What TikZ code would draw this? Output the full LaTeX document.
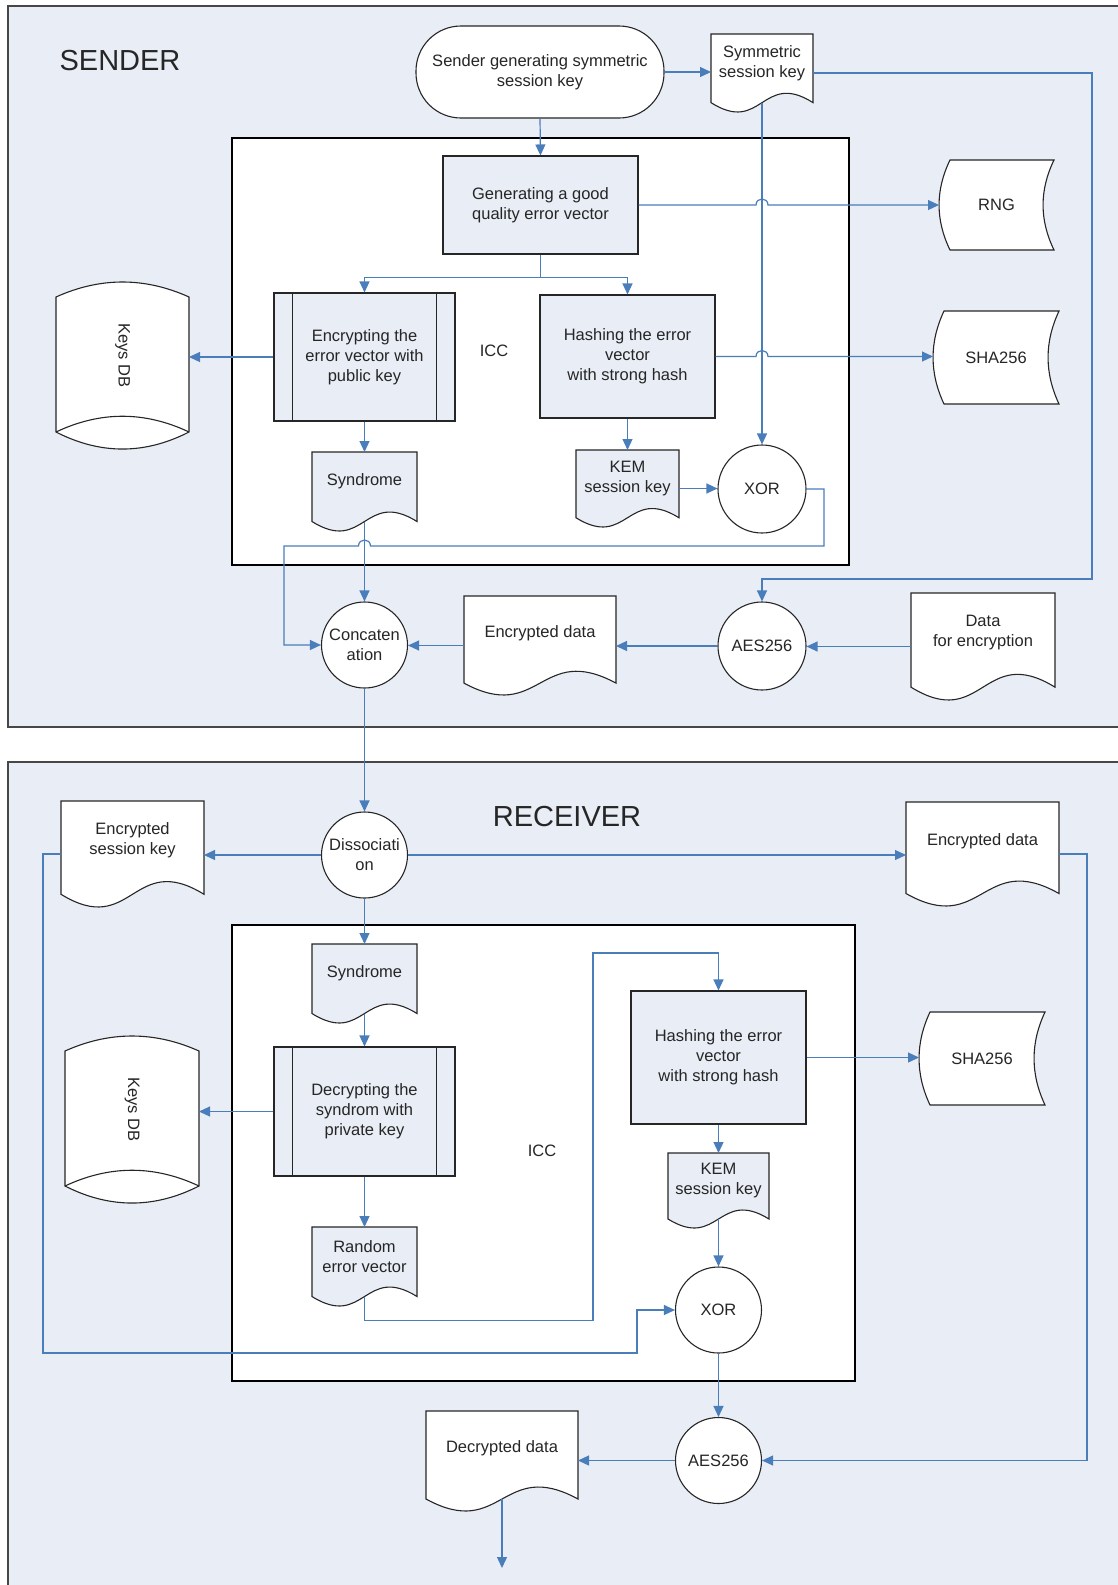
\documentclass[tikz,border=0pt]{standalone}
\usepackage{fontspec}
\setmainfont{Liberation Sans}
\usetikzlibrary{arrows.meta,calc}

\definecolor{panel}{HTML}{E9EDF6}
\definecolor{wire}{HTML}{4A7EBB}
\definecolor{ink}{HTML}{262626}

\tikzset{
  conn/.style={draw=wire, line width=1.2pt, -{Triangle[length=11pt,width=10pt]}},
  wireline/.style={draw=wire, line width=1.2pt},
  shapeline/.style={draw=ink, line width=1.1pt},
  panelbox/.style={draw=ink!85, line width=1.5pt, fill=panel},
  iccbox/.style={draw=black, line width=1.3pt, fill=white},
  txt/.style={font=\fontsize{16.5}{20}\selectfont, text=ink, align=center, inner sep=0pt},
  title/.style={font=\fontsize{29}{34}\selectfont, text=ink, inner sep=0pt},
  ghost/.style={draw=none, fill=none, inner sep=0pt, outer sep=0pt},
  proc/.style={shapeline, fill=panel, txt, rectangle},
  term/.style={shapeline, fill=white, txt, rectangle, rounded corners=45pt,
               minimum width=248pt, minimum height=92pt},
  op/.style={shapeline, fill=white, txt, circle, minimum size=#1},
  op/.default=86pt,
}

% document symbol with a wavy lower edge; connectors use the full box,
% (name-b) is the middle of the wave
\newcommand\docnode[7]{% name, fill, x, y, width, height, text
  \pgfmathsetmacro\wv{0.12*#6}%
  \pgfmathsetmacro\wc{3.46*\wv}%
  \node[ghost, minimum width=#5pt, minimum height=#6pt] (#1) at (#3,#4) {};
  \coordinate (#1-b) at ($(#1.south)+(0,-\wv)$);
  \filldraw[shapeline, fill=#2] (#1.north west) -- (#1.north east)
     -- ($(#1.south east)+(0,-\wv)$)
     .. controls ($(#1-b)+(0,-\wc)$) and ($(#1-b)+(0,\wc)$) ..
     ($(#1.south west)+(0,-\wv)$) -- cycle;
  \node[txt] (#1-t) at ($(#1.center)+(0,-0.127*#6)$) {#7};
}

% stored data symbol: convex left side, concave right side
\newcommand\storenode[6]{% name, x, y, width, height, text
  \node[ghost, minimum width=#4pt, minimum height=#5pt] (#1) at (#2,#3) {};
  \filldraw[shapeline, fill=white] ($(#1.north west)+(11,0)$) -- (#1.north east)
    .. controls ($(#1.north east)+(-14.6,#5/3)$) and ($(#1.south east)+(-14.6,-#5/3)$) .. (#1.south east)
    -- ($(#1.south west)+(11,0)$)
    .. controls ($(#1.south west)+(-3.6,-#5/3)$) and ($(#1.north west)+(-3.6,#5/3)$) ..
    ($(#1.north west)+(11,0)$) -- cycle;
  \node[txt] (#1-t) at (#1.center) {#6};
}

% database drum standing upright, label turned
\newcommand\dbnode[5]{% name, x, y, width, height
  \node[ghost, minimum width=#4pt, minimum height=#5pt] (#1) at (#2,#3) {};
  \filldraw[shapeline, fill=white] ($(#1.north west)+(0,15)$)
    .. controls ($(#1.north west)+(#4/3,-5)$) and ($(#1.north east)+(-#4/3,-5)$) .. ($(#1.north east)+(0,15)$)
    -- ($(#1.south east)+(0,-17)$)
    .. controls ($(#1.south east)+(-#4/3,5.7)$) and ($(#1.south west)+(#4/3,5.7)$) .. ($(#1.south west)+(0,-17)$)
    -- cycle;
  \draw[shapeline] ($(#1.south west)+(0,-17)$)
    .. controls ($(#1.south west)+(#4/3,-38)$) and ($(#1.south east)+(-#4/3,-38)$) .. ($(#1.south east)+(0,-17)$);
  \node[txt, rotate=-90] (#1-t) at ($(#1.center)+(0,-10)$) {Keys DB};
}

% the two inner bars of a predefined process box
\newcommand\predlines[1]{%
  \draw[shapeline] ($(#1.north west)+(19,0)$) -- ($(#1.south west)+(19,0)$);
  \draw[shapeline] ($(#1.north east)+(-19,0)$) -- ($(#1.south east)+(-19,0)$);
}

\begin{document}
\begin{tikzpicture}[x=1pt, y=-1pt]
\useasboundingbox (0,0) rectangle (1118,1585);
\clip (0,0) rectangle (1118,1585);
\fill[white] (0,0) rectangle (1118,1585);

% ---------------- panels ----------------
\path[panelbox] (8,6) rectangle (1150,727);
\path[panelbox] (8,762) rectangle (1150,1620);
\path[iccbox] (232,138) rectangle (849,565);
\path[iccbox] (232,925) rectangle (855,1381);

\node[title] (sendert) at (120,61) {SENDER};
\node[title] (receivert) at (567,817) {RECEIVER};
\node[txt] (icc1) at (494,351) {ICC};
\node[txt] (icc2) at (542,1151) {ICC};

% ---------------- sender ----------------
\node[term] (start) at (540,72) {Sender generating symmetric\\session key};
\docnode{symk}{white}{762}{73}{102}{78}{Symmetric\\session key}
\node[proc, minimum width=195pt, minimum height=98pt] (gen) at (540.5,205) {Generating a good\\quality error vector};
\node[proc, minimum width=181pt, minimum height=128pt] (enc) at (364.5,357) {Encrypting the\\error vector with\\public key};
\predlines{enc}
\node[proc, minimum width=175pt, minimum height=123pt] (hash) at (627.5,356.5) {Hashing the error\\vector\\with strong hash};
\dbnode{keys1}{122.5}{365.5}{133}{167}
\docnode{syn1}{panel}{364.5}{491.5}{105}{79}{Syndrome}
\docnode{kem1}{panel}{627.5}{488.5}{103}{77}{KEM\\session key}
\node[op=88pt] (xor1) at (762,489) {XOR};
\storenode{rng}{996.5}{205}{115}{90}{RNG}
\storenode{sha1}{996}{357.5}{126}{93}{SHA256}
\node[op=88pt] (aes1) at (762,646) {AES256};
\docnode{data}{white}{983}{646.5}{144}{107}{Data\\for encryption}
\docnode{encd}{white}{540}{645.5}{152}{99}{Encrypted data}
\node[op] (concat) at (364.5,645) {Concaten\\ation};

% ---------------- receiver ----------------
\node[op] (diss) at (364.5,855) {Dissociati\\on};
\docnode{esk}{white}{132.5}{854}{143}{106}{Encrypted\\session key}
\docnode{encd2}{white}{982.5}{854}{153}{104}{Encrypted data}
\docnode{syn2}{panel}{364.5}{983.5}{105}{79}{Syndrome}
\node[proc, minimum width=181pt, minimum height=129pt] (dec) at (364.5,1111.5) {Decrypting the\\syndrom with\\private key};
\predlines{dec}
\dbnode{keys2}{132}{1119.5}{134}{167}
\docnode{rnd}{panel}{364.5}{1266.5}{105}{79}{Random\\error vector}
\node[proc, minimum width=175pt, minimum height=133pt] (hash2) at (718.5,1057.5) {Hashing the error\\vector\\with strong hash};
\storenode{sha2}{982}{1058.5}{126}{93}{SHA256}
\docnode{kem2}{panel}{718.5}{1190.5}{101}{75}{KEM\\session key}
\node[op] (xor2) at (718.5,1310) {XOR};
\node[op] (aes2) at (718.5,1460.5) {AES256};
\docnode{decd}{white}{502}{1461}{152}{100}{Decrypted data}
\coordinate (out) at (502,1568);

% ---------------- sender connectors ----------------
\draw[conn] (start.east) -- (start.east -| symk.west);
\draw[conn] (start.south) -- (gen.north);
\draw[conn] (symk.east) -| (1092,579) -| (aes1.north);
\draw[conn] (symk-b) -- (xor1.north);
\draw[conn] (gen.east) -- ($(gen.east -| xor1.north)+(-6,0)$)
   .. controls +(0,-8) and +(0,-8) .. ($(gen.east -| xor1.north)+(6,0)$) -- (gen.east -| rng.west);
\draw[conn] (gen.south) -- ++(0,23) -| (enc.north);
\draw[conn] (gen.south) -- ++(0,23) -| (hash.north);
\draw[conn] (enc.west) -- (enc.west -| keys1.east);
\draw[conn] (hash.east) -- ($(hash.east -| xor1.north)+(-6,0)$)
   .. controls +(0,-8) and +(0,-8) .. ($(hash.east -| xor1.north)+(6,0)$) -- (hash.east -| sha1.west);
\draw[conn] (enc.south) -- (syn1.north);
\draw[conn] (hash.south) -- (kem1.north);
\draw[conn] (kem1.east) -- (kem1.east -| xor1.west);
\draw[conn] (xor1.east) -| (824,546) -- (370.5,546)
   .. controls +(0,-8) and +(0,-8) .. (358.5,546) -- (284,546) |- (concat.west);
\draw[conn] (syn1-b) -- (concat.north);
\draw[conn] (data.west) -- (data.west -| aes1.east);
\draw[conn] (aes1.west) -- (aes1.west -| encd.east);
\draw[conn] (encd.west) -- (encd.west -| concat.east);
\draw[conn] (concat.south) -- (diss.north);

% ---------------- receiver connectors ----------------
\draw[conn] (diss.west) -- (diss.west -| esk.east);
\draw[conn] (diss.east) -- (diss.east -| encd2.west);
\draw[conn] (diss.south) -- (syn2.north);
\draw[conn] (syn2-b) -- (dec.north);
\draw[conn] (dec.west) -- (dec.west -| keys2.east);
\draw[conn] (dec.south) -- (rnd.north);
\draw[conn] (rnd-b) -- ++(0,24) -| (593,953) -| (hash2.north);
\draw[conn] (hash2.east) -- (hash2.east -| sha2.west);
\draw[conn] (hash2.south) -- (kem2.north);
\draw[conn] (kem2-b) -- (xor2.north);
\draw[conn] (esk.west) -- ++(-18,0) |- (637,1353) |- (xor2.west);
\draw[conn] (xor2.south) -- (aes2.north);
\draw[conn] (encd2.east) -| (1087,1460.5) -- (aes2.east);
\draw[conn] (aes2.west) -- (aes2.west -| decd.east);
\draw[conn] (decd-b) -- (out);
\end{tikzpicture}
\end{document}
